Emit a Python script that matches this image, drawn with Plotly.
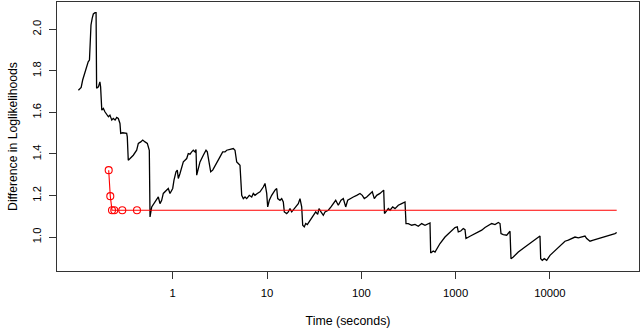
import plotly.graph_objects as go

# Black series: time (seconds) and difference in log-likelihoods
time_s = [0.100, 0.107, 0.111, 0.115, 0.120, 0.124, 0.127, 0.131, 0.133, 0.136,
          0.140, 0.144, 0.150, 0.154, 0.156, 0.163, 0.169, 0.172, 0.177, 0.184,
          0.191, 0.200, 0.208, 0.216, 0.226, 0.234, 0.245, 0.255, 0.265, 0.276,
          0.281, 0.295, 0.312, 0.325, 0.330, 0.338, 0.353, 0.382, 0.415, 0.432,
          0.458, 0.481, 0.509, 0.538, 0.565, 0.575, 0.599, 0.649, 0.677, 0.704,
          0.733, 0.764, 0.795, 0.864, 0.898, 0.936,
          1.000, 1.032, 1.084, 1.119, 1.147, 1.195, 1.246, 1.296, 1.350, 1.408,
          1.463, 1.526, 1.590, 1.654, 1.724, 1.767, 1.797, 1.868, 1.948, 2.111,
          2.255, 2.328, 2.444, 2.529, 2.656, 2.929, 3.174, 3.390, 3.586, 3.738,
          4.052, 4.391, 4.578, 4.772, 4.963, 5.172, 5.393, 5.608, 5.846, 6.093,
          6.492, 6.884, 7.157, 7.461, 7.890, 8.430, 9.138, 9.524, 9.927, 10.17,
          10.58, 11.21, 12.16, 12.67, 12.99, 13.74, 14.32, 14.89, 15.26, 16.18,
          16.82, 17.54, 18.28, 19.01, 20.16, 21.47, 22.38, 23.33, 23.91, 24.86,
          25.73, 26.76, 28.58, 30.97, 32.85, 34.49, 35.60, 37.38, 39.54, 41.22,
          44.67, 47.71, 50.47, 53.52, 57.04, 60.92, 64.44, 68.33, 71.74, 75.89,
          82.27, 89.36, 96.88, 102.5, 107.6, 114.1, 123.7, 130.8, 137.4, 145.7,
          157.9, 167.0, 172.8, 176.2, 186.0, 193.4, 201.6, 215.3, 227.8, 246.9,
          268.2, 290.7, 297.9, 315.1, 342.3, 371.1, 402.2, 437.1, 473.7, 513.4,
          535.1, 544.3, 580.0, 604.6, 630.4, 683.3, 772.0, 872.2, 985.4, 1042,
          1068, 1133, 1207, 1258, 1289, 1421, 1606, 1741, 1892, 2050,
          2222, 2415, 2617, 2837, 2957, 3030, 3204, 3483, 3775, 3868,
          4091, 4623, 5444, 6412, 7534, 7852, 7987, 8306, 8721, 9247,
          10020, 11320, 12790, 14450, 15670, 17030, 18460, 20010, 21740, 23560,
          24570, 26630, 28860, 31360, 33990, 38400, 43380, 49010, 51100]
diff_ll = [1.707, 1.720, 1.756, 1.780, 1.804, 1.828, 1.844, 1.852, 1.981, 2.021,
           2.053, 2.074, 2.080, 2.080, 1.716, 1.723, 1.747, 1.723, 1.611, 1.619,
           1.603, 1.587, 1.579, 1.587, 1.563, 1.571, 1.563, 1.576, 1.571, 1.547,
           1.499, 1.502, 1.499, 1.499, 1.482, 1.370, 1.378, 1.394, 1.418, 1.451,
           1.458, 1.467, 1.458, 1.451, 1.418, 1.097, 1.145, 1.169, 1.185, 1.193,
           1.161, 1.177, 1.210, 1.226, 1.234, 1.210,
           1.234, 1.274, 1.314, 1.322, 1.282, 1.306, 1.330, 1.362, 1.370, 1.378,
           1.402, 1.399, 1.410, 1.418, 1.410, 1.422, 1.298, 1.338, 1.362, 1.394,
           1.418, 1.410, 1.338, 1.314, 1.322, 1.354, 1.386, 1.410, 1.410, 1.418,
           1.422, 1.426, 1.418, 1.362, 1.354, 1.346, 1.201, 1.185, 1.193, 1.185,
           1.201, 1.193, 1.210, 1.201, 1.210, 1.218, 1.241, 1.258, 1.210, 1.145,
           1.177, 1.201, 1.226, 1.234, 1.185, 1.177, 1.185, 1.169, 1.121, 1.113,
           1.121, 1.137, 1.121, 1.129, 1.145, 1.161, 1.185, 1.145, 1.057, 1.049,
           1.065, 1.060, 1.081, 1.105, 1.121, 1.109, 1.137, 1.121, 1.105, 1.121,
           1.129, 1.145, 1.161, 1.177, 1.153, 1.177, 1.185, 1.145, 1.177, 1.185,
           1.193, 1.201, 1.210, 1.201, 1.185, 1.193, 1.210, 1.218, 1.185, 1.201,
           1.210, 1.221, 1.226, 1.113, 1.129, 1.137, 1.129, 1.145, 1.137, 1.153,
           1.161, 1.169, 1.065, 1.065, 1.057, 1.061, 1.052, 1.065, 1.057, 1.065,
           1.068, 0.923, 0.933, 0.928, 0.944, 0.969, 1.000, 1.025, 1.046, 1.049,
           1.025, 1.029, 1.041, 1.036, 0.993, 1.004, 1.017, 1.025, 1.033, 1.046,
           1.057, 1.065, 1.060, 1.070, 1.065, 1.017, 1.012, 1.009, 1.028, 0.896,
           0.904, 0.928, 0.952, 0.976, 1.000, 1.005, 0.896, 0.888, 0.896, 0.888,
           0.912, 0.936, 0.961, 0.980, 0.985, 0.993, 1.000, 0.996, 1.000, 1.005,
           0.993, 0.980, 0.985, 0.990, 0.993, 1.000, 1.009, 1.017, 1.022]

# Red series: selected points and the horizontal level
red_time = [0.2096, 0.2179, 0.2272, 0.2402, 0.2920, 0.4181]
red_diff = [1.322, 1.197, 1.129, 1.129, 1.129, 1.129]
red_line_end_time = 51100
red_level = 1.129

x_tickvals = [1, 10, 100, 1000, 10000]
x_ticktext = ["1", "10", "100", "1000", "10000"]
y_tickvals = [1.0, 1.2, 1.4, 1.6, 1.8, 2.0]
y_ticktext = ["1.0", "1.2", "1.4", "1.6", "1.8", "2.0"]

FONT = "Liberation Sans, Arial, Helvetica, sans-serif"

fig = go.Figure()
fig.add_trace(go.Scatter(x=time_s, y=diff_ll, mode="lines",
                         line=dict(color="black", width=1.3),
                         showlegend=False, hoverinfo="skip"))
fig.add_trace(go.Scatter(x=red_time + [red_line_end_time],
                         y=red_diff + [red_level], mode="lines",
                         line=dict(color="red", width=1.1),
                         showlegend=False, hoverinfo="skip"))
fig.add_trace(go.Scatter(x=red_time, y=red_diff, mode="markers",
                         marker=dict(symbol="circle-open", size=7, color="red",
                                     line=dict(width=1.1, color="red")),
                         showlegend=False, hoverinfo="skip"))

fig.update_layout(
    width=640, height=328,
    margin=dict(l=57, r=1, t=2, b=57),
    paper_bgcolor="white", plot_bgcolor="white",
    font=dict(family=FONT, size=11.3, color="black"),
    hovermode=False,
    xaxis=dict(type="log", range=[-1.2269, 4.9449],
               tickvals=x_tickvals, ticktext=x_ticktext,
               ticks="outside", ticklen=7, tickwidth=1, tickcolor="#333",
               ticklabelstandoff=4,
               showgrid=False, zeroline=False,
               showline=True, linecolor="#333", linewidth=1, mirror=True,
               title=dict(text="Time (seconds)", standoff=19,
                          font=dict(size=12.4)),
               automargin=False),
    yaxis=dict(range=[0.8366, 2.1316],
               tickvals=y_tickvals, ticktext=y_ticktext, tickangle=-90,
               ticks="outside", ticklen=7, tickwidth=1, tickcolor="#333",
               ticklabelstandoff=3,
               showgrid=False, zeroline=False,
               showline=True, linecolor="#333", linewidth=1, mirror=True,
               title=dict(text="Difference in Loglikelihoods", standoff=11,
                          font=dict(size=12.2)),
               automargin=False),
)

fig.write_html("out.html",
               config={"displayModeBar": False},
               post_script="document.body.style.margin='0';document.body.style.overflow='hidden';")
